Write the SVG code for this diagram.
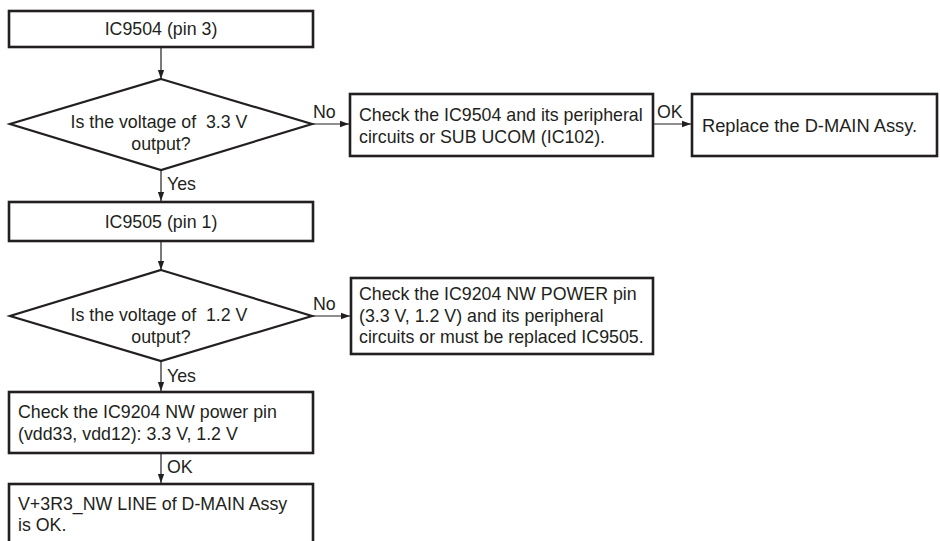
<svg xmlns="http://www.w3.org/2000/svg" width="940" height="541" viewBox="0 0 940 541">
<defs>
<marker id="ah" viewBox="0 0 10 10" refX="10" refY="5" markerWidth="9" markerHeight="9" markerUnits="userSpaceOnUse" orient="auto">
<path d="M0,1.5 L10,5 L0,8.5 Z" fill="#231f20"/>
</marker>
<style>
.box{fill:#fff;stroke:#231f20;stroke-width:2.6}
.dia{fill:#fff;stroke:#231f20;stroke-width:2.2}
.ln{fill:none;stroke:#231f20;stroke-width:1.2;marker-end:url(#ah)}
text{font-family:"Liberation Sans",Arial,sans-serif;font-size:17.8px;fill:#231f20;white-space:pre}
.c{text-anchor:middle}
</style>
</defs>
<rect width="940" height="541" fill="#fff"/>
<g id="n1"><rect class="box" x="9" y="11" width="304" height="36"/><text class="c" x="161" y="35">IC9504 (pin 3)</text></g>
<g id="n2"><polygon class="dia" points="161,79 312,124 161,170 10,124"/><text class="c" x="159" y="128" xml:space="preserve">Is the voltage of  3.3 V</text><text class="c" x="161" y="150">output?</text></g>
<g id="n3"><rect class="box" x="350" y="94" width="303" height="62"/><text x="359" y="121">Check the IC9504 and its peripheral</text><text x="359" y="143">circuits or SUB UCOM (IC102).</text></g>
<g id="n4"><rect class="box" x="692" y="94" width="245" height="62"/><text x="702" y="132" style="font-size:18.3px">Replace the D-MAIN Assy.</text></g>
<g id="n5"><rect class="box" x="9" y="202" width="304" height="39"/><text class="c" x="161" y="228">IC9505 (pin 1)</text></g>
<g id="n6"><polygon class="dia" points="161,270 312,316 161,361 10,316"/><text class="c" x="159" y="321" xml:space="preserve">Is the voltage of  1.2 V</text><text class="c" x="161" y="343">output?</text></g>
<g id="n7"><rect class="box" x="351" y="278" width="302" height="76"/><text x="359" y="300">Check the IC9204 NW POWER pin</text><text x="359" y="322">(3.3 V, 1.2 V) and its peripheral</text><text x="359" y="343">circuits or must be replaced IC9505.</text></g>
<g id="n8"><rect class="box" x="9" y="392" width="304" height="61"/><text x="18" y="418">Check the IC9204 NW power pin</text><text x="18" y="440">(vdd33, vdd12): 3.3 V, 1.2 V</text></g>
<g id="n9"><rect class="box" x="9" y="484" width="304" height="70"/><text x="18" y="510">V+3R3_NW LINE of D-MAIN Assy</text><text x="18" y="531">is OK.</text></g>
<g id="connectors">
<line class="ln" x1="161" y1="48" x2="161" y2="79"/>
<line class="ln" x1="312" y1="124" x2="349" y2="124"/>
<line class="ln" x1="654" y1="124" x2="691" y2="124"/>
<line class="ln" x1="161" y1="170" x2="161" y2="201"/>
<line class="ln" x1="161" y1="242" x2="161" y2="270"/>
<line class="ln" x1="312" y1="316" x2="350" y2="316"/>
<line class="ln" x1="161" y1="361" x2="161" y2="391"/>
<line class="ln" x1="161" y1="454" x2="161" y2="483"/>
<text x="313" y="118">No</text>
<text x="657" y="118">OK</text>
<text x="167" y="190">Yes</text>
<text x="313" y="310">No</text>
<text x="167" y="382">Yes</text>
<text x="167" y="473">OK</text>
</g>
</svg>
